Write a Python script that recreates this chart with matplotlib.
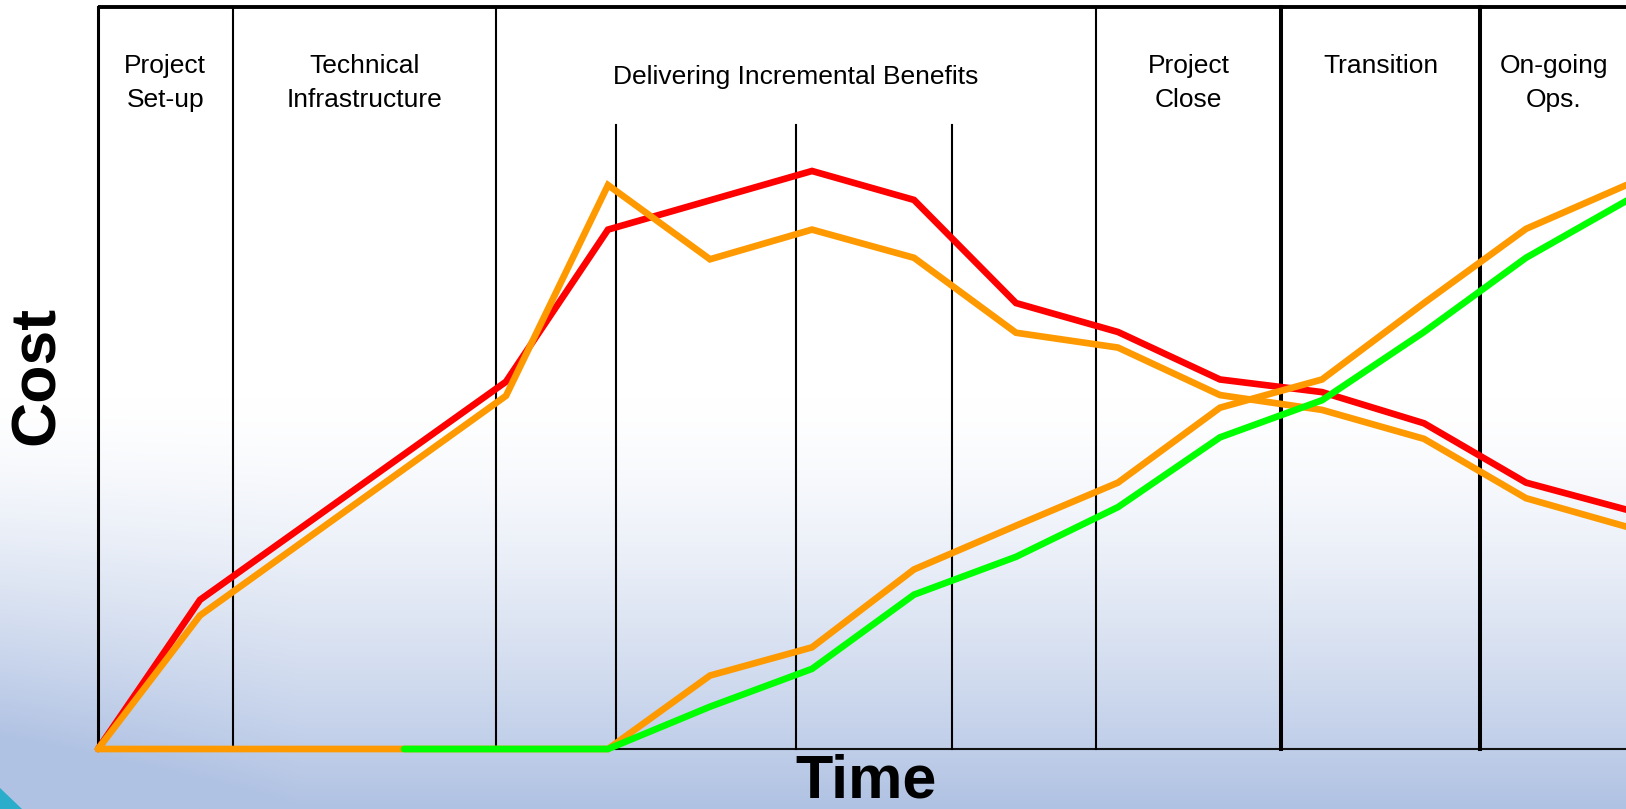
import numpy as np
import matplotlib.pyplot as plt
from matplotlib.patches import Polygon

plt.rcParams['font.family'] = ['Liberation Sans', 'DejaVu Sans']

# red: planned cost
cost_t = [0, 1, 4, 5, 7, 8, 9, 10, 11, 12, 13, 14, 15]
cost = [0, 20.1, 49.5, 70.0, 77.9, 74.0, 60.1, 56.2, 49.8, 48.1, 43.9, 35.9, 32.2]

# orange (upper): actual cost
cost_act_t = [0, 1, 4, 5, 6, 7, 8, 9, 10, 11, 12, 13, 14, 15]
cost_act = [0, 18.0, 47.6, 76.0, 66.0, 70.0, 66.2, 56.1, 54.1, 47.7, 45.7, 41.8, 33.8, 29.9]

# orange (lower): actual benefits
ben_act_t = [0, 5, 6, 7, 8, 9, 10, 11, 12, 13, 14, 15]
ben_act = [0, 0, 9.9, 13.7, 24.2, 30.1, 35.9, 46.0, 49.8, 60.1, 70.1, 76.1]

# green: planned benefits
ben_t = [3, 5, 6, 7, 8, 9, 10, 11, 12, 13, 14, 15]
ben = [0, 0, 5.7, 10.8, 20.8, 25.9, 32.6, 42.0, 47.0, 56.2, 66.2, 74.0]

phase_edges = [0, 1.32, 3.90, 9.78, 11.60, 13.55, 15.0]
phase_labels = ['Project\nSet-up', 'Technical\nInfrastructure',
                'Delivering Incremental Benefits', 'Project\nClose',
                'Transition', 'On-going\nOps.']
sub_steps = [5.08, 6.84, 8.37]

W, H = 1626, 809
fig = plt.figure(figsize=(W / 100, H / 100), dpi=100)

# slide background: white fading to light blue at the bottom
bg = fig.add_axes([0, 0, 1, 1])
yy = np.linspace(0, H, 300)[:, None]
xx = np.linspace(0, W, 400)[None, :]
v = np.clip((yy - 400) / (H - 400), 0, 1) ** 1.4
v = v * (1 + 0.3 * np.clip(1 - xx / 300, 0, 1))
v = np.clip(v, 0, 1)
top = np.array([1.0, 1.0, 1.0])
bot = np.array([0xb0, 0xc2, 0xe3]) / 255
img = top + (bot - top) * v[..., None]
bg.imshow(img, extent=[0, W, H, 0], aspect='auto')
bg.add_patch(Polygon([(0, 788), (0, H), (22, H)], closed=True,
                     color='#2aaccb', lw=0))
bg.set_xlim(0, W)
bg.set_ylim(H, 0)
bg.axis('off')

ax = fig.add_axes([0, 0, 1, 1])
ax.patch.set_alpha(0)
ax.set_xlim(-98 / 102, (W - 98) / 102)
ax.set_ylim(-60 / 7.42, 749 / 7.42)
ax.axis('off')
xmax = (W - 98) / 102 + 0.2

# frame and phase dividers
ax.plot([0, xmax], [100, 100], color='black', lw=2.8, solid_capstyle='butt')
ax.plot([0, 0], [0, 100], color='black', lw=2.2)
ax.plot([0, xmax], [0, 0], color='#111111', lw=1.5, zorder=1)
for e in phase_edges[1:-1]:
    lw = 2.9 if e > 11 else 1.5
    ax.plot([e, e], [0, 100], color='black', lw=lw, zorder=1)
for s in sub_steps:
    ax.plot([s, s], [0, 84.1], color='black', lw=1.5, zorder=1)

kw = dict(lw=4.8, solid_capstyle='round', solid_joinstyle='miter')
ax.plot(cost_t, cost, color='#ff0000', zorder=3, **kw)
ax.plot(cost_act_t, cost_act, color='#ff9900', zorder=4, **kw)
ax.plot(ben_act_t, ben_act, color='#ff9900', zorder=5, **kw)
ax.plot(ben_t, ben, color='#00ff00', zorder=6, **kw)

for i, lab in enumerate(phase_labels):
    cx = (phase_edges[i] + phase_edges[i + 1]) / 2
    lines = lab.split('\n')
    y0 = 89.6 if (len(lines) == 1 and len(lab) > 20) else 91.1
    for j, ln in enumerate(lines):
        ax.text(cx, y0 - 4.6 * j, ln, ha='center', va='baseline',
                fontsize=19, color='black')

fig.text(37 / W, 1 - 375 / H, 'Cost', rotation=90, ha='center', va='center',
         fontsize=45, fontweight='bold')
fig.text(866 / W, 1 - 797 / H, 'Time', ha='center', va='baseline',
         fontsize=44, fontweight='bold')

fig.savefig('out.png', dpi=100)
